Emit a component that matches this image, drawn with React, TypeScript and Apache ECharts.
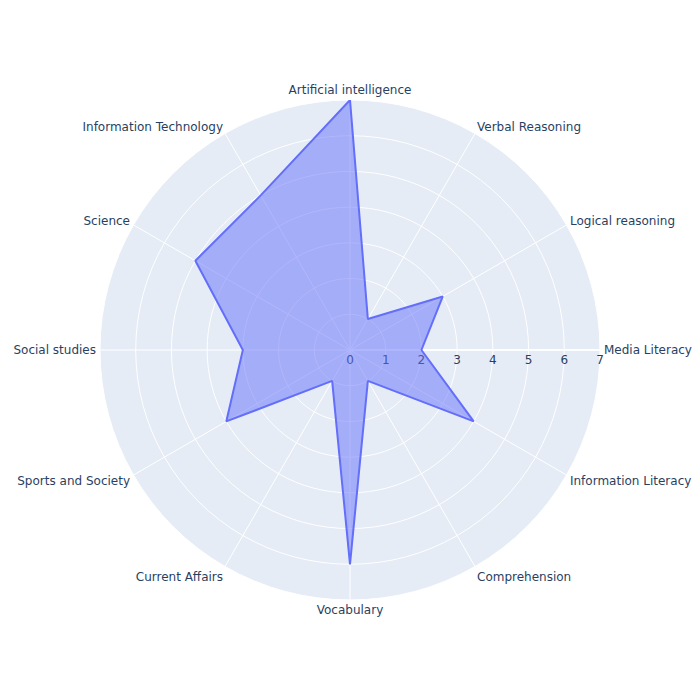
import React, { useEffect, useRef } from "react";
import * as echarts from "echarts";

const categories = [
  "Media Literacy",
  "Logical reasoning",
  "Verbal Reasoning",
  "Artificial intelligence",
  "Information Technology",
  "Science",
  "Social studies",
  "Sports and Society",
  "Current Affairs",
  "Vocabulary",
  "Comprehension",
  "Information Literacy",
];
const values = [2, 3, 1, 7, 5, 5, 3, 4, 1, 6, 1, 4];
const radialTicks = [0, 1, 2, 3, 4, 5, 6, 7];

// per-label line heights used only to nudge label placement
const labelLineHeights = [14, 4, 6, 12, 6, 4, 14, 8, 14, 12, 14, 8];

export default function App() {
  const ref = useRef<HTMLDivElement>(null);
  useEffect(() => {
    document.body.style.margin = "0";
    if (!ref.current) return;
    const chart = echarts.init(ref.current, undefined, { renderer: "svg" });
    const step = 360 / categories.length;
    const data: number[][] = categories.map((_, i) => [values[i], i * step]);
    data.push([values[0], 360]);
    const font = "'DejaVu Sans', Verdana, sans-serif";
    const rich: Record<string, any> = {};
    labelLineHeights.forEach((lh, i) => {
      rich["l" + i] = {
        lineHeight: lh,
        color: "#2a3f5f",
        fontSize: 12,
        fontFamily: font,
      };
    });
    chart.setOption({
      animation: false,
      backgroundColor: "#ffffff",
      graphic: [
        {
          type: "circle",
          z: -10,
          silent: true,
          shape: { cx: 350, cy: 350, r: 250 },
          style: { fill: "#E5ECF6" },
        },
      ],
      polar: { center: [350, 350], radius: 250 },
      angleAxis: {
        type: "value",
        min: 0,
        max: 360,
        interval: step,
        startAngle: 0,
        clockwise: false,
        axisLine: { show: false },
        axisTick: { show: false },
        splitLine: { show: true, lineStyle: { color: "#ffffff", width: 1 } },
        axisLabel: {
          margin: 4,
          color: "#2a3f5f",
          fontSize: 12,
          fontFamily: font,
          rich,
          formatter: (v: number) => {
            const idx = Math.round(v / step);
            return idx < categories.length ? `{l${idx}|${categories[idx]}}` : "";
          },
        },
      },
      radiusAxis: {
        type: "value",
        min: radialTicks[0],
        max: radialTicks[radialTicks.length - 1],
        interval: 1,
        axisLine: { show: true, lineStyle: { color: "#ffffff", width: 2, opacity: 0.85 } },
        axisTick: { show: false },
        axisLabel: {
          color: "#2a3f5f",
          fontSize: 12,
          fontFamily: font,
          margin: -4,
          verticalAlign: "top",
        },
        splitLine: { show: true, lineStyle: { color: "#ffffff", width: 1 } },
      },
      series: [
        {
          type: "line",
          coordinateSystem: "polar",
          data,
          symbol: "none",
          smooth: false,
          lineStyle: { color: "#636efa", width: 2 },
          itemStyle: { color: "#636efa" },
          areaStyle: { color: "#636efa", opacity: 0.5 },
          z: 2,
        },
      ],
    });
    return () => chart.dispose();
  }, []);
  return <div ref={ref} style={{ width: 700, height: 700 }} />;
}
